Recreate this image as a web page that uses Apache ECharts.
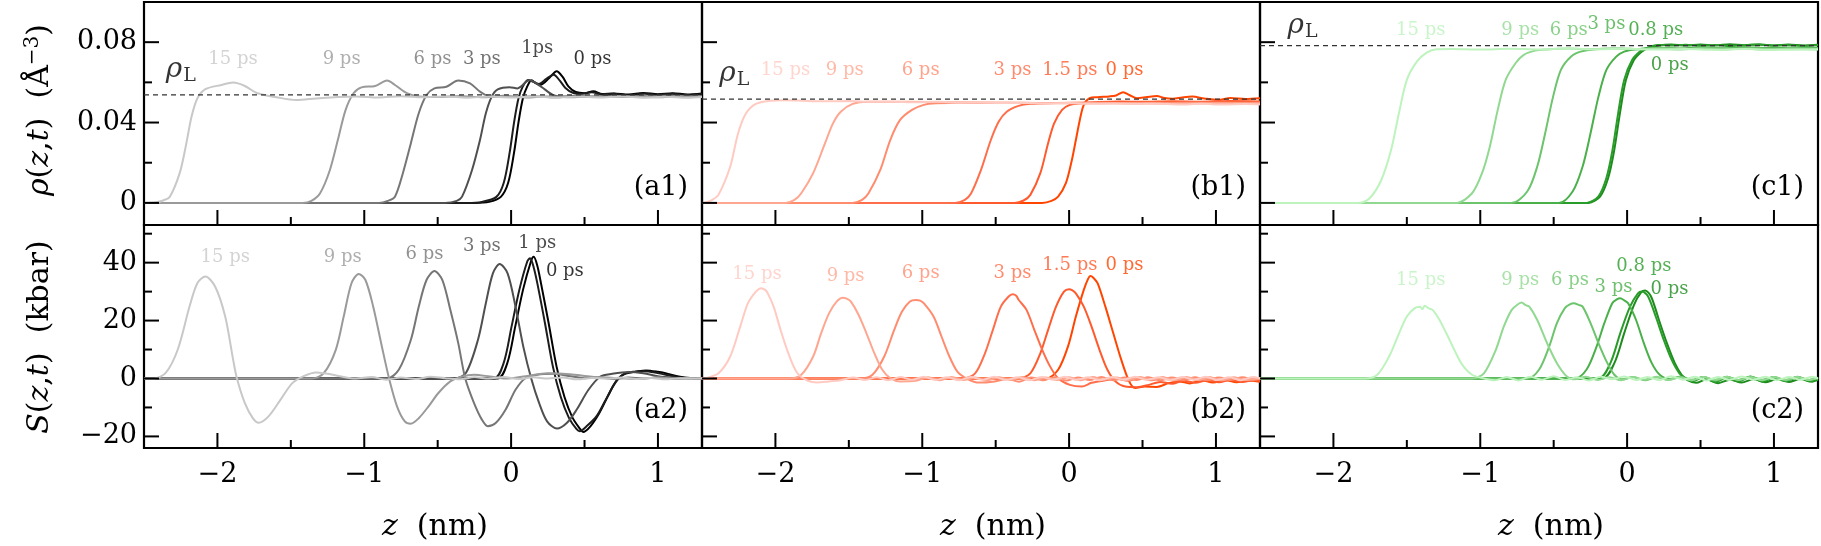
<!DOCTYPE html>
<html><head><meta charset="utf-8">
<script src="https://cdn.jsdelivr.net/npm/echarts/dist/echarts.min.js"></script>
<style>html,body{margin:0;padding:0;background:#fff}#c{width:1821px;height:546px}</style>
</head><body><div id="c"></div>
<script>
// ---------------- DATA (z in nm, rho in A^-3, S in kbar) ----------------
// Panel (a1): density, gray series; order 0, 1, 3, 6, 9, 15 ps
const rhoA_0 = [[-2.5,0],[-0.25,0],[-0.15,0.0005],[-0.07,0.003],[-0.02,0.01],[0.02,0.025],[0.05,0.04],[0.08,0.052],[0.11,0.058],[0.14,0.061],[0.17,0.0595],[0.2,0.0588],[0.26,0.0622],[0.31,0.0655],[0.35,0.0628],[0.39,0.058],[0.44,0.0552],[0.5,0.0546],[0.56,0.0556],[0.62,0.0542],[0.7,0.0545],[0.8,0.0539],[0.9,0.0547],[1.0,0.0541],[1.1,0.0546],[1.2,0.054],[1.3,0.0545]];
const rhoA_1 = [[-2.5,0],[-0.3,0],[-0.2,0.0005],[-0.1,0.003],[-0.05,0.01],[-0.01,0.025],[0.02,0.04],[0.05,0.052],[0.08,0.058],[0.115,0.0612],[0.15,0.0603],[0.19,0.0592],[0.24,0.0618],[0.29,0.0638],[0.33,0.061],[0.37,0.0572],[0.42,0.0548],[0.48,0.0543],[0.55,0.0551],[0.62,0.054],[0.7,0.0543],[0.8,0.0536],[0.9,0.0544],[1.0,0.0538],[1.1,0.0543],[1.2,0.0537],[1.3,0.0542]];
const rhoA_3 = [[-2.5,0],[-0.45,0],[-0.37,0.001],[-0.334,0.0031],[-0.266,0.0164],[-0.212,0.0313],[-0.172,0.0446],[-0.132,0.0529],[-0.091,0.0565],[-0.011,0.0576],[0.043,0.057],[0.124,0.061],[0.204,0.0579],[0.285,0.0537],[0.366,0.0529],[0.45,0.0534],[0.55,0.0528],[0.65,0.0533],[0.75,0.0527],[0.85,0.0532],[0.95,0.0529],[1.05,0.0534],[1.15,0.0528],[1.3,0.0531]];
const rhoA_6 = [[-2.5,0],[-0.9,0],[-0.84,0.001],[-0.791,0.0031],[-0.737,0.0148],[-0.683,0.0296],[-0.629,0.0446],[-0.576,0.0537],[-0.522,0.057],[-0.441,0.0578],[-0.36,0.0609],[-0.28,0.0595],[-0.212,0.0554],[-0.145,0.053],[-0.05,0.0533],[0.05,0.0527],[0.15,0.0531],[0.3,0.0526],[0.45,0.0531],[0.6,0.0527],[0.75,0.0532],[0.9,0.0528],[1.05,0.0532],[1.2,0.0527],[1.3,0.053]];
const rhoA_9 = [[-2.5,0],[-1.42,0],[-1.36,0.001],[-1.301,0.0048],[-1.234,0.0164],[-1.18,0.0313],[-1.127,0.0463],[-1.073,0.0546],[-1.019,0.0575],[-0.925,0.0582],[-0.845,0.0609],[-0.791,0.0587],[-0.71,0.0546],[-0.629,0.053],[-0.5,0.0527],[-0.35,0.0532],[-0.2,0.0526],[-0.05,0.0531],[0.1,0.0525],[0.25,0.053],[0.4,0.0526],[0.55,0.0531],[0.7,0.0527],[0.85,0.053],[1.0,0.0526],[1.15,0.0531],[1.3,0.0528]];
const rhoA_15 = [[-2.5,0],[-2.418,0.0003],[-2.37,0.0012],[-2.324,0.0031],[-2.257,0.0148],[-2.216,0.028],[-2.176,0.043],[-2.136,0.0521],[-2.082,0.0566],[-1.974,0.0587],[-1.894,0.0599],[-1.813,0.0582],[-1.732,0.0547],[-1.598,0.0526],[-1.463,0.0512],[-1.329,0.052],[-1.2,0.0526],[-1.06,0.053],[-0.9,0.0525],[-0.75,0.0531],[-0.6,0.0526],[-0.45,0.053],[-0.3,0.0524],[-0.15,0.0529],[0,0.0525],[0.15,0.053],[0.3,0.0524],[0.45,0.0529],[0.6,0.0525],[0.75,0.053],[0.9,0.0524],[1.05,0.0528],[1.2,0.0523],[1.3,0.0527]];

// Panel (b1): density, orange series; order 0, 1.5, 3, 6, 9, 15 ps
const rhoB_0 = [[-2.5,0],[-0.183,0],[-0.12,0.001],[-0.075,0.0031],[-0.022,0.0098],[0.019,0.0214],[0.046,0.0313],[0.073,0.0413],[0.1,0.0488],[0.14,0.0521],[0.194,0.0526],[0.274,0.053],[0.32,0.0535],[0.368,0.0551],[0.41,0.0537],[0.463,0.0521],[0.53,0.0527],[0.597,0.0532],[0.65,0.0522],[0.705,0.0519],[0.77,0.0525],[0.839,0.0529],[0.92,0.052],[1.014,0.0513],[1.1,0.0522],[1.2,0.0517],[1.3,0.0521]];
const rhoB_1p5 = [[-2.5,0],[-0.371,0],[-0.31,0.0012],[-0.264,0.004],[-0.196,0.0148],[-0.143,0.0297],[-0.102,0.0396],[-0.048,0.0463],[0.005,0.0488],[0.086,0.0496],[0.2,0.0502],[0.35,0.0505],[0.5,0.0503],[0.7,0.0506],[0.9,0.0504],[1.1,0.0507],[1.3,0.0505]];
const rhoB_3 = [[-2.5,0],[-0.775,0],[-0.71,0.0015],[-0.667,0.0048],[-0.6,0.0164],[-0.533,0.0313],[-0.479,0.0405],[-0.425,0.0454],[-0.344,0.0483],[-0.264,0.0493],[-0.1,0.0497],[0.1,0.0499],[0.3,0.0498],[0.5,0.05],[0.7,0.0499],[0.9,0.0501],[1.1,0.05],[1.3,0.0501]];
const rhoB_6 = [[-2.5,0],[-1.474,0],[-1.41,0.0015],[-1.366,0.0048],[-1.286,0.0164],[-1.218,0.0313],[-1.151,0.0413],[-1.07,0.0463],[-0.99,0.0488],[-0.909,0.0496],[-0.7,0.0499],[-0.4,0.0498],[-0.1,0.0497],[0.2,0.0499],[0.5,0.0496],[0.8,0.0498],[1.1,0.0496],[1.3,0.0497]];
const rhoB_9 = [[-2.5,0],[-1.931,0],[-1.87,0.0015],[-1.824,0.0048],[-1.743,0.0148],[-1.662,0.0297],[-1.608,0.0396],[-1.555,0.0454],[-1.474,0.0493],[-1.366,0.0504],[-1.1,0.0503],[-0.8,0.0501],[-0.5,0.0499],[-0.2,0.0497],[0.1,0.0496],[0.4,0.0497],[0.7,0.0494],[1.0,0.0496],[1.3,0.0495]];
const rhoB_15 = [[-2.5,0],[-2.469,0.0003],[-2.43,0.0015],[-2.388,0.004],[-2.308,0.018],[-2.254,0.0347],[-2.2,0.0446],[-2.133,0.0493],[-2.039,0.0508],[-1.93,0.0511],[-1.8,0.0508],[-1.65,0.0506],[-1.5,0.0507],[-1.35,0.0503],[-1.2,0.0504],[-1.05,0.0501],[-0.9,0.0503],[-0.75,0.0499],[-0.6,0.05],[-0.45,0.0497],[-0.3,0.0498],[-0.15,0.0495],[0,0.0497],[0.15,0.0493],[0.3,0.0495],[0.45,0.0492],[0.6,0.0494],[0.75,0.049],[0.9,0.0493],[1.05,0.049],[1.2,0.0492],[1.3,0.049]];

// Panel (c1): density, green series; order 0, 0.8, 3, 6, 9, 15 ps
const rhoC_0 = [[-2.5,0],[-0.264,0],[-0.183,0.0033],[-0.129,0.0124],[-0.089,0.0257],[-0.049,0.0446],[-0.008,0.0612],[0.046,0.0711],[0.099,0.0753],[0.14,0.077],[0.22,0.0784],[0.3,0.0788],[0.4,0.0783],[0.5,0.0789],[0.6,0.0784],[0.7,0.079],[0.8,0.0785],[0.9,0.0789],[1.0,0.0784],[1.1,0.0788],[1.2,0.0783],[1.3,0.0787]];
const rhoC_08 = [[-2.5,0],[-0.276,0],[-0.195,0.0033],[-0.141,0.0124],[-0.101,0.0257],[-0.061,0.0446],[-0.02,0.0612],[0.034,0.0711],[0.087,0.0753],[0.128,0.077],[0.208,0.0786],[0.3,0.0783],[0.4,0.0787],[0.5,0.0782],[0.6,0.0786],[0.7,0.0781],[0.8,0.0785],[0.9,0.0788],[1.0,0.0783],[1.1,0.0786],[1.2,0.0782],[1.3,0.0785]];
const rhoC_3 = [[-2.5,0],[-0.464,0],[-0.37,0.0058],[-0.303,0.0181],[-0.249,0.0347],[-0.195,0.0529],[-0.141,0.0662],[-0.074,0.0728],[-0.02,0.0753],[0.074,0.0765],[0.2,0.0772],[0.35,0.0769],[0.5,0.0774],[0.65,0.077],[0.8,0.0775],[0.95,0.0771],[1.1,0.0774],[1.3,0.0771]];
const rhoC_6 = [[-2.5,0],[-0.787,0],[-0.679,0.0058],[-0.612,0.0181],[-0.558,0.0347],[-0.504,0.0529],[-0.451,0.0662],[-0.383,0.0728],[-0.316,0.0753],[-0.22,0.0765],[-0.05,0.0769],[0.1,0.0766],[0.25,0.0771],[0.4,0.0767],[0.55,0.0772],[0.7,0.0768],[0.85,0.0771],[1.0,0.0767],[1.15,0.0771],[1.3,0.0768]];
const rhoC_9 = [[-2.5,0],[-1.163,0],[-1.056,0.0048],[-0.988,0.0148],[-0.935,0.028],[-0.881,0.0463],[-0.827,0.0612],[-0.76,0.0695],[-0.706,0.0736],[-0.626,0.0758],[-0.546,0.0764],[-0.4,0.0768],[-0.25,0.0765],[-0.1,0.0769],[0.05,0.0765],[0.2,0.0768],[0.35,0.0764],[0.5,0.0768],[0.65,0.0764],[0.8,0.0767],[0.95,0.0763],[1.1,0.0767],[1.3,0.0764]];
const rhoC_15 = [[-2.5,0],[-1.836,0],[-1.755,0.0022],[-1.674,0.0114],[-1.607,0.0264],[-1.554,0.0446],[-1.5,0.0612],[-1.432,0.0703],[-1.365,0.0748],[-1.298,0.0765],[-1.19,0.0766],[-1.0,0.0763],[-0.8,0.0767],[-0.6,0.0764],[-0.4,0.0768],[-0.2,0.0765],[0,0.0767],[0.2,0.0763],[0.4,0.0766],[0.6,0.0762],[0.8,0.0766],[1.0,0.0762],[1.3,0.0765]];

// Panel (a2): stress, gray
const sA_0 = [[-2.5,0],[-0.093,0],[-0.026,5.3],[0.028,17.9],[0.081,30.6],[0.135,40.4],[0.154,42],[0.178,39],[0.203,33],[0.256,19],[0.31,4],[0.364,-6.5],[0.418,-13.5],[0.471,-17.5],[0.49,-18.5],[0.54,-16.5],[0.6,-12],[0.66,-6],[0.72,-0.6],[0.78,1.8],[0.85,2.4],[0.92,2.8],[1.0,2.3],[1.07,1.6],[1.15,0.6],[1.22,0.2],[1.3,0.1]];
const sA_1 = [[-2.5,0],[-0.118,0],[-0.051,5.3],[0.003,17.9],[0.056,30.6],[0.11,40.4],[0.129,41.5],[0.153,38.5],[0.178,33],[0.231,19],[0.285,4],[0.339,-6.5],[0.393,-13.5],[0.446,-17.5],[0.468,-18.2],[0.514,-16.5],[0.581,-13.1],[0.64,-7.8],[0.7,-2.2],[0.76,1.3],[0.83,2.2],[0.9,2.5],[0.98,2.1],[1.06,1.2],[1.14,0.5],[1.22,0.1],[1.3,0.2]];
const sA_3 = [[-2.5,0],[-0.387,0],[-0.307,2],[-0.226,13.3],[-0.172,26],[-0.124,36.3],[-0.078,39.5],[-0.024,36.3],[0.03,24.8],[0.083,11],[0.137,0],[0.191,-8.5],[0.245,-14.8],[0.312,-17.3],[0.379,-15.4],[0.446,-10.8],[0.527,-3.9],[0.608,0.7],[0.689,1.6],[0.8,2.2],[0.9,1.8],[1.0,0.8],[1.1,0.3],[1.2,0.1],[1.3,0.2]];
const sA_6 = [[-2.5,0],[-0.845,0],[-0.764,3.1],[-0.683,13.3],[-0.629,24.8],[-0.576,34],[-0.522,37.1],[-0.468,34],[-0.414,23.7],[-0.36,12.2],[-0.312,0],[-0.253,-8.4],[-0.199,-14.2],[-0.159,-16.5],[-0.105,-15.4],[-0.038,-10.8],[0.03,-3.9],[0.097,0.1],[0.178,1.3],[0.285,1.6],[0.393,0.9],[0.5,0.1],[0.6,0.4],[0.7,-0.2],[0.8,0.3],[0.9,0],[1.0,0.3],[1.1,-0.2],[1.2,0.2],[1.3,0]];
const sA_9 = [[-2.5,0],[-1.356,0],[-1.275,1.9],[-1.194,9.9],[-1.14,21.4],[-1.087,32.9],[-1.038,36.1],[-0.992,34],[-0.939,24.8],[-0.885,12.2],[-0.831,0],[-0.777,-9.6],[-0.724,-14.8],[-0.683,-15.6],[-0.629,-13.7],[-0.562,-9.6],[-0.495,-5],[-0.414,-1],[-0.334,0.7],[-0.253,1.3],[-0.145,0.7],[-0.038,0],[0.1,0.8],[0.25,1.8],[0.4,1.5],[0.55,0.6],[0.7,0.2],[0.85,-0.2],[1.0,0.3],[1.15,-0.1],[1.3,0.2]];
const sA_15 = [[-2.5,0],[-2.431,0],[-2.351,2],[-2.27,10],[-2.189,25],[-2.136,33],[-2.082,35.2],[-2.015,31.7],[-1.947,21.4],[-1.893,6.5],[-1.867,0],[-1.813,-8.5],[-1.759,-13.7],[-1.719,-15.3],[-1.652,-13.1],[-1.571,-7.4],[-1.49,-1.6],[-1.409,0.9],[-1.329,2.1],[-1.248,1.6],[-1.167,0.8],[-1.06,0],[-0.95,0.5],[-0.85,-0.4],[-0.75,0.3],[-0.65,-0.2],[-0.55,0.6],[-0.45,0.1],[-0.35,-0.3],[-0.25,0.4],[-0.15,0],[-0.05,0.5],[0.05,-0.2],[0.15,0.4],[0.25,0],[0.35,0.3],[0.45,-0.3],[0.55,0.2],[0.65,-0.1],[0.75,0.3],[0.85,-0.2],[0.95,0.2],[1.05,-0.3],[1.15,0.1],[1.3,0]];

// Panel (b2): stress, orange
const sB_0 = [[-2.5,0],[-0.156,0],[-0.075,3],[-0.008,11],[0.046,21.4],[0.1,30.6],[0.13,34.5],[0.145,35.4],[0.165,34.8],[0.194,32.9],[0.247,24.8],[0.301,15.6],[0.355,6.5],[0.409,-1],[0.449,-3.3],[0.516,-2.8],[0.597,-2.9],[0.678,-1.6],[0.75,-1],[0.82,-1.7],[0.9,-0.6],[0.98,-1.4],[1.06,-0.5],[1.14,-1.3],[1.22,-0.7],[1.3,-1.1]];
const sB_1p5 = [[-2.5,0],[-0.344,0],[-0.264,1.8],[-0.196,8.7],[-0.143,16.8],[-0.089,24.8],[-0.035,30],[0,30.8],[0.02,30.5],[0.046,29.4],[0.1,24.8],[0.153,17.9],[0.207,9.9],[0.261,3],[0.315,-1],[0.382,-2.8],[0.463,-3],[0.543,-2.2],[0.62,-1.2],[0.7,-1.8],[0.78,-0.8],[0.86,-1.5],[0.94,-0.6],[1.02,-1.3],[1.1,-0.5],[1.18,-1.2],[1.26,-0.6],[1.3,-0.9]];
const sB_3 = [[-2.5,0],[-0.721,0],[-0.64,1.8],[-0.573,8.7],[-0.519,16.8],[-0.465,24.8],[-0.412,28.3],[-0.385,29.1],[-0.36,28.6],[-0.344,27.2],[-0.29,23.7],[-0.237,16.8],[-0.183,9.9],[-0.129,4.1],[-0.075,0.1],[0.005,-2.2],[0.086,-2.8],[0.153,-1.5],[0.24,-0.7],[0.32,-0.1],[0.4,-0.8],[0.48,0.2],[0.56,-0.6],[0.64,0.3],[0.72,-0.7],[0.8,0.2],[0.88,-0.6],[0.96,0.3],[1.04,-0.7],[1.12,0.2],[1.2,-0.5],[1.3,0]];
const sB_6 = [[-2.5,0],[-1.42,0],[-1.339,1.3],[-1.259,7.6],[-1.191,16.8],[-1.138,23.1],[-1.084,26.6],[-1.044,27.1],[-1.015,26.9],[-0.99,26],[-0.923,21.4],[-0.869,14.5],[-0.815,7.6],[-0.761,2.4],[-0.694,-0.1],[-0.613,-1.4],[-0.506,-1],[-0.42,-0.2],[-0.34,-1.1],[-0.26,0.3],[-0.18,-0.6],[-0.1,0.4],[-0.02,-0.7],[0.06,0.3],[0.14,-0.5],[0.22,0.5],[0.3,-0.6],[0.38,0.3],[0.46,-0.5],[0.54,0.4],[0.62,-0.6],[0.7,0.3],[0.78,-0.5],[0.86,0.4],[0.94,-0.6],[1.02,0.3],[1.1,-0.5],[1.18,0.4],[1.26,-0.4],[1.3,0]];
const sB_9 = [[-2.5,0],[-1.904,0],[-1.824,1.3],[-1.743,7.6],[-1.689,15.6],[-1.635,22.5],[-1.582,26.6],[-1.541,27.9],[-1.515,27.6],[-1.487,26.6],[-1.434,22],[-1.38,15.6],[-1.326,8.7],[-1.272,3],[-1.218,0.1],[-1.151,-1],[-1.044,-0.8],[-0.96,0.4],[-0.88,-0.6],[-0.8,0.5],[-0.72,-0.5],[-0.64,0.3],[-0.56,-0.7],[-0.48,0.4],[-0.4,-0.5],[-0.32,0.5],[-0.24,-0.6],[-0.16,0.3],[-0.08,-0.5],[0,0.4],[0.08,-0.6],[0.16,0.5],[0.24,-0.4],[0.32,0.3],[0.4,-0.6],[0.48,0.5],[0.56,-0.4],[0.64,0.4],[0.72,-0.6],[0.8,0.5],[0.88,-0.5],[0.96,0.3],[1.04,-0.6],[1.12,0.4],[1.2,-0.5],[1.3,0.2]];
const sB_15 = [[-2.5,0],[-2.469,0.2],[-2.388,1.8],[-2.308,7.6],[-2.24,17.9],[-2.187,26],[-2.133,30],[-2.098,31.2],[-2.07,30.6],[-2.052,29.4],[-2.012,24.8],[-1.958,15.6],[-1.904,7.6],[-1.85,1.8],[-1.783,-0.7],[-1.716,-1.4],[-1.635,-1],[-1.555,-0.6],[-1.47,0.3],[-1.39,-0.5],[-1.31,0.4],[-1.23,-0.6],[-1.15,0.5],[-1.07,-0.4],[-0.99,0.6],[-0.91,-0.5],[-0.83,0.4],[-0.75,-0.6],[-0.67,0.5],[-0.59,-0.4],[-0.51,0.6],[-0.43,-0.5],[-0.35,0.4],[-0.27,-0.6],[-0.19,0.5],[-0.11,-0.4],[-0.03,0.6],[0.05,-0.5],[0.13,0.4],[0.21,-0.6],[0.29,0.5],[0.37,-0.4],[0.45,0.6],[0.53,-0.5],[0.61,0.4],[0.69,-0.6],[0.77,0.5],[0.85,-0.4],[0.93,0.6],[1.01,-0.5],[1.09,0.4],[1.17,-0.6],[1.25,0.5],[1.3,0]];

// Panel (c2): stress, green
const sC_0 = [[-2.5,0],[-0.168,0],[-0.087,5.3],[-0.02,15.6],[0.047,25.4],[0.095,29.7],[0.123,30.4],[0.163,28.3],[0.217,20.2],[0.271,12.2],[0.325,5.3],[0.371,1.3],[0.411,-0.6],[0.47,-1.5],[0.54,-0.3],[0.62,-1.6],[0.7,-0.4],[0.78,-1.4],[0.86,-0.2],[0.94,-1.3],[1.02,-0.3],[1.1,-1.2],[1.18,-0.2],[1.26,-1.1],[1.3,-0.5]];
const sC_08 = [[-2.5,0],[-0.195,0],[-0.114,5.3],[-0.047,15.6],[0.02,24.8],[0.074,29.4],[0.101,30],[0.141,28.5],[0.195,21.4],[0.249,13.4],[0.303,6.5],[0.356,1.8],[0.397,0.2],[0.45,-0.9],[0.52,0.5],[0.6,-1.2],[0.68,0.3],[0.76,-1],[0.84,0.6],[0.92,-1.1],[1.0,0.4],[1.08,-0.9],[1.16,0.5],[1.24,-1],[1.3,0]];
const sC_3 = [[-2.5,0],[-0.356,0],[-0.276,3.1],[-0.208,11],[-0.155,19.1],[-0.101,26],[-0.07,27.3],[-0.047,27.7],[-0.02,27],[0.007,26],[0.061,20.2],[0.114,12.2],[0.168,5.3],[0.222,1.3],[0.289,-0.2],[0.36,0.6],[0.44,-0.7],[0.52,0.5],[0.6,-0.8],[0.68,0.6],[0.76,-0.5],[0.84,0.7],[0.92,-0.6],[1.0,0.4],[1.08,-0.7],[1.16,0.6],[1.24,-0.5],[1.3,0.3]];
const sC_6 = [[-2.5,0],[-0.679,0],[-0.599,3.1],[-0.531,11],[-0.478,19.1],[-0.424,24.3],[-0.39,25.6],[-0.363,26],[-0.33,25.4],[-0.303,24.8],[-0.249,19.1],[-0.195,12.2],[-0.141,6],[-0.087,1.3],[-0.034,-0.3],[0.04,0.5],[0.12,-0.6],[0.2,0.4],[0.28,-0.5],[0.36,0.6],[0.44,-0.4],[0.52,0.5],[0.6,-0.6],[0.68,0.4],[0.76,-0.5],[0.84,0.6],[0.92,-0.4],[1.0,0.5],[1.08,-0.6],[1.16,0.4],[1.24,-0.5],[1.3,0.2]];
const sC_9 = [[-2.5,0],[-1.056,0],[-0.975,1.8],[-0.894,9.9],[-0.84,17.9],[-0.786,23.7],[-0.75,25.4],[-0.719,26.2],[-0.69,25.3],[-0.666,24.8],[-0.612,20.2],[-0.545,12.2],[-0.478,5.3],[-0.41,0.7],[-0.356,-0.3],[-0.28,0.6],[-0.2,-0.5],[-0.12,0.4],[-0.04,-0.6],[0.04,0.5],[0.12,-0.4],[0.2,0.6],[0.28,-0.5],[0.36,0.3],[0.44,-0.6],[0.52,0.5],[0.6,-0.4],[0.68,0.6],[0.76,-0.5],[0.84,0.4],[0.92,-0.6],[1.0,0.5],[1.08,-0.4],[1.16,0.5],[1.24,-0.5],[1.3,0.2]];
const sC_15 = [[-2.5,0],[-1.782,0],[-1.701,1.3],[-1.621,7.6],[-1.553,15.6],[-1.5,21.4],[-1.446,24.3],[-1.41,24.8],[-1.395,23.9],[-1.378,25.1],[-1.35,24.2],[-1.325,23.7],[-1.284,20.8],[-1.231,15.6],[-1.177,9.9],[-1.123,4.8],[-1.056,1.3],[-0.975,0],[-0.9,-0.6],[-0.82,0.5],[-0.74,-0.7],[-0.66,0.6],[-0.58,-0.4],[-0.5,0.8],[-0.42,-0.5],[-0.34,0.4],[-0.26,-0.7],[-0.18,0.6],[-0.1,-0.3],[-0.02,0.7],[0.06,-0.5],[0.14,0.5],[0.22,-0.6],[0.3,0.8],[0.38,-0.4],[0.46,0.6],[0.54,-0.7],[0.62,0.5],[0.7,-0.5],[0.78,0.7],[0.86,-0.4],[0.94,0.6],[1.02,-0.6],[1.1,0.5],[1.18,-0.4],[1.26,0.6],[1.3,0]];

// Time labels: [text, z, value] (same order as the curves)
const labelsA1 = [['0 ps',0.554,0.0715],['1ps',0.178,0.077],['3 ps',-0.199,0.0715],['6 ps',-0.535,0.0715],['9 ps',-1.154,0.0715],['15 ps',-1.894,0.0715]];
const labelsB1 = [['0 ps',0.377,0.0662],['1.5 ps',0.005,0.0662],['3 ps',-0.385,0.0662],['6 ps',-1.011,0.0662],['9 ps',-1.528,0.0662],['15 ps',-1.931,0.0662]];
const labelsC1 = [['0 ps',0.29,0.0683],['0.8 ps',0.195,0.0858],['3 ps',-0.141,0.089],['6 ps',-0.397,0.0861],['9 ps',-0.728,0.0861],['15 ps',-1.405,0.0861]];
const labelsA2 = [['0 ps',0.366,36.9],['1 ps',0.178,46.7],['3 ps',-0.199,45.5],['6 ps',-0.59,43],['9 ps',-1.146,41.9],['15 ps',-1.947,41.9]];
const labelsB2 = [['0 ps',0.377,39.2],['1.5 ps',0.005,39.2],['3 ps',-0.385,36.3],['6 ps',-1.011,36.3],['9 ps',-1.522,35.4],['15 ps',-2.125,35.8]];
const labelsC2 = [['0 ps',0.289,30.8],['0.8 ps',0.114,38.6],['3 ps',-0.093,31.5],['6 ps',-0.389,34],['9 ps',-0.728,34],['15 ps',-1.405,34]];

// Liquid density reference rho_L and its label position [z, value]
const rhoL = [0.0538, 0.0517, 0.0783];
const rhoLLabelPos = [[-2.25,0.0632],[-2.28,0.0612],[-2.21,0.0852]];

// Axis ranges and ticks
const xRange = [-2.5, 1.3];
const yRangeRho = [-0.011, 0.1];
const yRangeS = [-24, 53];
const xMajor = [-2,-1,0,1];
const xMinor = [-1.5,-0.5,0.5];
const yMajorRho = [0,0.04,0.08];
const yMinorRho = [0.02,0.06];
const yMajorS = [-20,0,20,40];
const yMinorS = [-10,10,30,50];
const panelTags = ['(a1)','(b1)','(c1)','(a2)','(b2)','(c2)'];

// ---------------- STYLE ----------------
const grayColors = ['#000000','#1c1c1c','#4f4f4f','#767676','#9a9a9a','#c8c8c8'];
const orangeColors = ['#ff4500','#ff5a2d','#ff6e4a','#ff8c6f','#ffa690','#ffcac2'];
const greenColors = ['#1d8c1d','#2a9c2a','#4ab04a','#6cc46c','#91d991','#bdf3bd'];
const SERIF = "'DejaVu Serif','Liberation Serif',serif";

const panels = [
  {row:0,col:0,curves:[rhoA_0,rhoA_1,rhoA_3,rhoA_6,rhoA_9,rhoA_15],colors:grayColors,labels:labelsA1},
  {row:0,col:1,curves:[rhoB_0,rhoB_1p5,rhoB_3,rhoB_6,rhoB_9,rhoB_15],colors:orangeColors,labels:labelsB1},
  {row:0,col:2,curves:[rhoC_0,rhoC_08,rhoC_3,rhoC_6,rhoC_9,rhoC_15],colors:greenColors,labels:labelsC1},
  {row:1,col:0,curves:[sA_0,sA_1,sA_3,sA_6,sA_9,sA_15],colors:grayColors,labels:labelsA2},
  {row:1,col:1,curves:[sB_0,sB_1p5,sB_3,sB_6,sB_9,sB_15],colors:orangeColors,labels:labelsB2},
  {row:1,col:2,curves:[sC_0,sC_08,sC_3,sC_6,sC_9,sC_15],colors:greenColors,labels:labelsC2}
];

const L0 = 144, PW = 558, T0 = 2, PH = 223;
const MAJOR_LEN = 15, MINOR_LEN = 8;   // tick lengths in px
const minus = v => (v < 0 ? '\u2212' + Math.abs(v) : String(v));

const grids = [], xAxes = [], yAxes = [], series = [], graphics = [];
panels.forEach((p) => {
  grids.push({left:L0 + PW*p.col, top:T0 + PH*p.row, width:PW, height:PH, show:true, borderColor:'#000', borderWidth:2.2, backgroundColor:'transparent'});
});
panels.forEach((p, i) => {
  const top = p.row === 0;
  const yr = top ? yRangeRho : yRangeS;
  xAxes.push({type:'value', gridIndex:i, position:'bottom', min:xRange[0], max:xRange[1], axisLine:{show:false, onZero:false}, splitLine:{show:false},
    axisTick:{show:false},
    axisLabel:{show:p.row===1, customValues:xMajor, formatter:minus, fontFamily:SERIF, fontSize:27, color:'#000', margin:13}});
  yAxes.push({type:'value', gridIndex:i, position:'left', min:yr[0], max:yr[1], axisLine:{show:false, onZero:false}, splitLine:{show:false},
    axisTick:{show:false},
    axisLabel:{show:p.col===0, customValues: top ? yMajorRho : yMajorS, formatter: v => top ? String(+(+v).toFixed(2)) : minus(v), fontFamily:SERIF, fontSize:27, color:'#000', margin:7}});
});

panels.forEach((p, i) => {
  const top = p.row === 0;
  const yr = top ? yRangeRho : yRangeS;
  // inward ticks as short line segments in data space (length converted from px via axis span)
  const dyPerPx = (yr[1] - yr[0]) / PH, dxPerPx = (xRange[1] - xRange[0]) / PW;
  const tickSeg = (pts) => ({type:'line', xAxisIndex:i, yAxisIndex:i, data:pts, symbol:'none', showSymbol:false,
    lineStyle:{color:'#000', width:2}, silent:true, animation:false, clip:false, z:6});
  xMajor.forEach(v => series.push(tickSeg([[v, yr[0]], [v, yr[0] + MAJOR_LEN*dyPerPx]])));
  xMinor.forEach(v => series.push(tickSeg([[v, yr[0]], [v, yr[0] + MINOR_LEN*dyPerPx]])));
  (top ? yMajorRho : yMajorS).forEach(v => series.push(tickSeg([[xRange[0], v], [xRange[0] + MAJOR_LEN*dxPerPx, v]])));
  (top ? yMinorRho : yMinorS).forEach(v => series.push(tickSeg([[xRange[0], v], [xRange[0] + MINOR_LEN*dxPerPx, v]])));

  p.curves.forEach((c, j) => {
    series.push({type:'line', xAxisIndex:i, yAxisIndex:i, data:c, symbol:'none', showSymbol:false, smooth:0.3,
      lineStyle:{color:p.colors[j], width:2}, silent:true, animation:false, clip:true});
  });
  if (top) {
    series.push({type:'line', xAxisIndex:i, yAxisIndex:i, data:[[xRange[0], rhoL[p.col]],[xRange[1], rhoL[p.col]]], symbol:'none', showSymbol:false,
      lineStyle:{type:[5,4], color:'#333', width:1.3}, silent:true, animation:false, z:3});
    series.push({type:'scatter', xAxisIndex:i, yAxisIndex:i, symbolSize:1, itemStyle:{color:'rgba(0,0,0,0)'}, silent:true, animation:false, z:5,
      label:{show:true, position:'inside', offset:[0,-6], formatter:'{r|\u03c1}{s|L}', color:'#000',
        rich:{r:{fontFamily:SERIF, fontStyle:'italic', fontSize:28, color:'#000'}, s:{fontFamily:SERIF, fontSize:19, color:'#000', padding:[12,0,0,1]}}},
      data:[{name:'rhoL', value:rhoLLabelPos[p.col]}]});
  }
  series.push({type:'scatter', xAxisIndex:i, yAxisIndex:i, symbolSize:1, itemStyle:{color:'rgba(0,0,0,0)'}, silent:true, animation:false, z:5,
    label:{show:true, position:'inside', formatter:'{b}', fontFamily:SERIF, fontSize:18},
    data:p.labels.map((l, j) => ({name:l[0], value:[l[1], l[2]], label:{color:p.colors[j]}}))});

  graphics.push({type:'text', x:L0 + PW*(p.col+1) - 14, y:T0 + PH*p.row + PH - 37, silent:true, z:10,
    style:{text:panelTags[i], font:'27px ' + SERIF, fill:'#000', align:'right', verticalAlign:'middle'}});
  if (p.row === 1) {
    graphics.push({type:'text', x:L0 + PW*p.col + PW/2 + 12, y:527, silent:true,
      style:{text:'{i|z}  (nm)', font:'30px ' + SERIF, fill:'#000', align:'center', verticalAlign:'middle',
        rich:{i:{fontStyle:'italic', fontSize:30, fontFamily:SERIF}}}});
  }
});
graphics.push({type:'text', x:40, y:110, rotation:Math.PI/2, silent:true,
  style:{text:'{i|\u03c1}({i|z},{i|t})  (\u00c5{s|\u22123})', font:'30px ' + SERIF, fill:'#000', align:'center', verticalAlign:'middle',
    rich:{i:{fontStyle:'italic', fontSize:30, fontFamily:SERIF}, s:{fontSize:20, fontFamily:SERIF, padding:[0,0,14,0]}}}});
graphics.push({type:'text', x:40, y:337, rotation:Math.PI/2, silent:true,
  style:{text:'{i|S}({i|z},{i|t})  (kbar)', font:'30px ' + SERIF, fill:'#000', align:'center', verticalAlign:'middle',
    rich:{i:{fontStyle:'italic', fontSize:30, fontFamily:SERIF}}}});

const chart = echarts.init(document.getElementById('c'), null, {renderer:'canvas'});
chart.setOption({animation:false, backgroundColor:'#fff', grid:grids, xAxis:xAxes, yAxis:yAxes, series:series, graphic:graphics});
</script>
</body></html>
